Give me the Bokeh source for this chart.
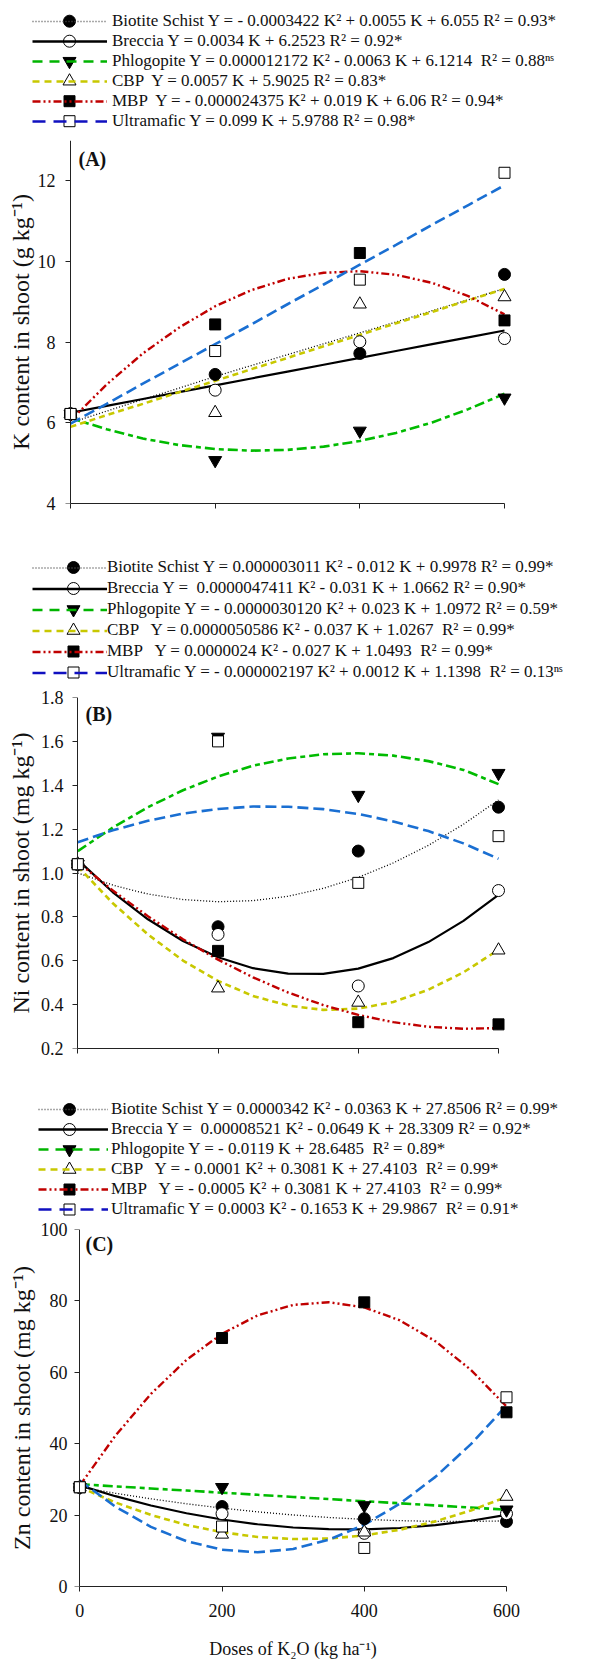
import numpy as np
from bokeh.plotting import figure
from bokeh.models import (Range1d, FixedTicker, Legend, LegendItem, Label,
                          NumeralTickFormatter, LinearAxis)
from bokeh.embed import file_html
from bokeh.resources import INLINE

# ---------------- data ----------------
DOSES = [0, 200, 400, 600]
CURVE_X = [0, 50, 100, 150, 200, 250, 300, 350, 400, 450, 500, 550, 600]
DOSE_TICKS = [0, 200, 400, 600]
SERIES = ["Biotite Schist", "Breccia", "Phlogopite", "CBP", "MBP", "Ultramafic"]

# (A) K content in shoot (g kg-1)
K_TICKS = [4, 6, 8, 10, 12]
K_OBS_BIOTITE = [6.22, 7.20, 7.72, 9.68]
K_OBS_BRECCIA = [6.22, 6.81, 8.01, 8.09]
K_OBS_PHLOGOPITE = [6.22, 5.07, 5.80, 6.62]
K_OBS_CBP = [6.22, 6.25, 8.94, 9.12]
K_OBS_MBP = [6.22, 8.44, 10.21, 8.54]
K_OBS_ULTRAMAFIC = [6.22, 7.78, 9.55, 12.20]
K_FIT_BIOTITE = [6.00, 6.29, 6.58, 6.86, 7.15, 7.42, 7.69, 7.96, 8.23, 8.50, 8.78, 9.05, 9.33]
K_FIT_BRECCIA = [6.25, 6.42, 6.59, 6.76, 6.93, 7.10, 7.27, 7.44, 7.61, 7.78, 7.95, 8.12, 8.29]
K_FIT_PHLOGOPITE = [6.12, 5.84, 5.61, 5.45, 5.35, 5.31, 5.33, 5.41, 5.55, 5.75, 6.01, 6.34, 6.72]
K_FIT_CBP = [5.90, 6.19, 6.47, 6.76, 7.04, 7.33, 7.61, 7.90, 8.18, 8.47, 8.75, 9.04, 9.32]
K_FIT_MBP = [6.06, 6.95, 7.72, 8.36, 8.89, 9.29, 9.57, 9.72, 9.76, 9.67, 9.47, 9.14, 8.69]
K_FIT_ULTRAMAFIC = [5.98, 6.47, 6.97, 7.46, 7.95, 8.44, 8.94, 9.43, 9.92, 10.41, 10.91, 11.40, 11.89]
K_LABELS = [
    "Biotite Schist Y = - 0.0003422 K\u00b2 + 0.0055 K + 6.055 R\u00b2 = 0.93*",
    "Breccia Y = 0.0034 K + 6.2523 R\u00b2 = 0.92*",
    "Phlogopite Y = 0.000012172 K\u00b2 - 0.0063 K + 6.1214  R\u00b2 = 0.88\u207f\u02e2",
    "CBP  Y = 0.0057 K + 5.9025 R\u00b2 = 0.83*",
    "MBP  Y = - 0.000024375 K\u00b2 + 0.019 K + 6.06 R\u00b2 = 0.94*",
    "Ultramafic Y = 0.099 K + 5.9788 R\u00b2 = 0.98*",
]

# (B) Ni content in shoot (mg kg-1)
NI_TICKS = [0.2, 0.4, 0.6, 0.8, 1.0, 1.2, 1.4, 1.6, 1.8]
NI_OBS_BIOTITE = [1.04, 0.755, 1.10, 1.30]
NI_OBS_BRECCIA = [1.04, 0.72, 0.485, 0.92]
NI_OBS_PHLOGOPITE = [1.04, 1.62, 1.355, 1.455]
NI_OBS_CBP = [1.04, 0.475, 0.41, 0.648]
NI_OBS_MBP = [1.04, 0.645, 0.32, 0.31]
NI_OBS_ULTRAMAFIC = [1.04, 1.60, 0.955, 1.168]
NI_FIT_BIOTITE = [1.000, 0.945, 0.904, 0.879, 0.869, 0.874, 0.894, 0.930, 0.980, 1.046, 1.126, 1.222, 1.333]
NI_FIT_BRECCIA = [1.060, 0.912, 0.789, 0.690, 0.616, 0.566, 0.541, 0.540, 0.564, 0.612, 0.685, 0.782, 0.900]
NI_FIT_PHLOGOPITE = [1.100, 1.207, 1.300, 1.377, 1.440, 1.489, 1.522, 1.541, 1.546, 1.535, 1.510, 1.470, 1.405]
NI_FIT_CBP = [1.030, 0.862, 0.720, 0.601, 0.508, 0.439, 0.396, 0.376, 0.382, 0.412, 0.468, 0.547, 0.650]
NI_FIT_MBP = [1.049, 0.920, 0.803, 0.698, 0.605, 0.524, 0.455, 0.398, 0.353, 0.320, 0.299, 0.290, 0.293]
NI_FIT_ULTRAMAFIC = [1.140, 1.195, 1.238, 1.271, 1.292, 1.303, 1.302, 1.291, 1.269, 1.235, 1.191, 1.135, 1.065]
NI_LABELS = [
    "Biotite Schist Y = 0.000003011 K\u00b2 - 0.012 K + 0.9978 R\u00b2 = 0.99*",
    "Breccia Y =  0.0000047411 K\u00b2 - 0.031 K + 1.0662 R\u00b2 = 0.90*",
    "Phlogopite Y = - 0.0000030120 K\u00b2 + 0.023 K + 1.0972 R\u00b2 = 0.59*",
    "CBP   Y = 0.0000050586 K\u00b2 - 0.037 K + 1.0267  R\u00b2 = 0.99*",
    "MBP   Y = 0.0000024 K\u00b2 - 0.027 K + 1.0493  R\u00b2 = 0.99*",
    "Ultramafic Y = - 0.000002197 K\u00b2 + 0.0012 K + 1.1398  R\u00b2 = 0.13\u207f\u02e2",
]

# (C) Zn content in shoot (mg kg-1)
ZN_TICKS = [0, 20, 40, 60, 80, 100]
ZN_OBS_BIOTITE = [27.8, 22.4, 19.0, 18.2]
ZN_OBS_BRECCIA = [27.8, 20.4, 14.9, 20.4]
ZN_OBS_PHLOGOPITE = [27.8, 27.8, 22.7, 21.5]
ZN_OBS_CBP = [27.8, 14.6, 15.2, 25.2]
ZN_OBS_MBP = [27.8, 69.6, 79.6, 48.8]
ZN_OBS_ULTRAMAFIC = [27.8, 16.8, 10.8, 53.0]
ZN_FIT_BIOTITE = [27.85, 26.12, 24.56, 23.17, 21.96, 20.91, 20.04, 19.33, 18.80, 18.44, 18.25, 18.23, 18.38]
ZN_FIT_BRECCIA = [28.33, 25.30, 22.69, 20.51, 18.76, 17.43, 16.53, 16.05, 16.00, 16.38, 17.18, 18.41, 20.07]
ZN_FIT_PHLOGOPITE = [28.65, 28.05, 27.46, 26.87, 26.27, 25.68, 25.08, 24.49, 23.89, 23.30, 22.70, 22.11, 21.51]
ZN_FIT_CBP = [27.80, 23.55, 20.04, 17.25, 15.20, 13.88, 13.29, 13.43, 14.30, 15.90, 18.24, 21.30, 25.10]
ZN_FIT_MBP = [28.30, 42.22, 53.94, 63.47, 70.80, 75.94, 78.88, 79.63, 78.18, 74.54, 68.70, 60.67, 50.44]
ZN_FIT_ULTRAMAFIC = [29.70, 22.38, 16.70, 12.68, 10.30, 9.58, 10.50, 13.08, 17.30, 23.18, 30.70, 39.88, 50.70]
ZN_LABELS = [
    "Biotite Schist Y = 0.0000342 K\u00b2 - 0.0363 K + 27.8506 R\u00b2 = 0.99*",
    "Breccia Y =  0.00008521 K\u00b2 - 0.0649 K + 28.3309 R\u00b2 = 0.92*",
    "Phlogopite Y = - 0.0119 K + 28.6485  R\u00b2 = 0.89*",
    "CBP   Y = - 0.0001 K\u00b2 + 0.3081 K + 27.4103  R\u00b2 = 0.99*",
    "MBP   Y = - 0.0005 K\u00b2 + 0.3081 K + 27.4103  R\u00b2 = 0.99*",
    "Ultramafic Y = 0.0003 K\u00b2 - 0.1653 K + 29.9867  R\u00b2 = 0.91*",
]

# ---------------- styles ----------------
FONT = "Liberation Serif"
PAGE_W = 597
INK = "#111111"
STYLES = [
    dict(color="#000000", dash="1 2", width=1.3, marker="circle", fill="#000000", size=12),
    dict(color="#000000", dash="solid", width=2.2, marker="circle", fill="#ffffff", size=12),
    dict(color="#00bb00", dash="10 4 5 4", width=2.6, marker="inverted_triangle", fill="#000000", size=13),
    dict(color="#c8c800", dash="6 4", width=2.6, marker="triangle", fill="#ffffff", size=13),
    dict(color="#c00000", dash="8 3 2 3 2 3", width=2.4, marker="square", fill="#000000", size=11),
    dict(color="#1a6fd2", dash="11 5", width=2.6, marker="square", fill="#ffffff", size=11),
]
# legend swatches in the original use slightly different line looks
LEGEND_LINES = [
    dict(color="#555555", dash="1 2", width=1.3),
    dict(color="#000000", dash="solid", width=2.4),
    dict(color="#00b400", dash="10 7", width=2.6),
    dict(color="#c8c800", dash="7 5", width=2.6),
    dict(color="#c00000", dash="8 3 2 3 2 3", width=2.4),
    dict(color="#1010c0", dash="13 8", width=2.6),
]
LEGEND_XOFF = -5000   # legend strips use a pixel-like x range far away from the dose axis


def make_legend_fig(obs, fits, labels, top, bottom, leg):
    """Legend strip above a panel; the series renderers it refers to fall outside its ranges."""
    h = bottom - top
    lf = figure(width=PAGE_W, height=h,
                x_range=Range1d(LEGEND_XOFF, LEGEND_XOFF + PAGE_W), y_range=Range1d(-h, 0),
                x_axis_type=None, y_axis_type=None,
                min_border_left=0, min_border_right=0, min_border_top=0, min_border_bottom=0,
                output_backend="svg", toolbar_location=None)
    lf.grid.visible = False
    lf.outline_line_color = None
    pitch = leg["pitch"]
    items = []
    for fit, ls, lab in zip(fits, LEGEND_LINES, labels):
        lr = lf.line(CURVE_X, fit, line_color=ls["color"], line_width=ls["width"], line_dash=ls["dash"])
        items.append(LegendItem(label=lab, renderers=[lr]))
    # legend markers (drawn under the legend's line swatches, as in the original)
    for i, st in enumerate(STYLES):
        lf.scatter([LEGEND_XOFF + leg["mx"]], [-(leg["row0"] + i * pitch - top)],
                   marker=st["marker"], size=st["size"],
                   fill_color=st["fill"], line_color="black", line_width=1)
    leg_bottom = leg["row0"] - pitch / 2.0 + 6 * pitch
    legend = Legend(items=items, location=(leg["left"], bottom - leg_bottom), orientation="vertical",
                    label_text_font=FONT, label_text_font_size="17px", label_text_color=INK,
                    glyph_width=leg["gw"], glyph_height=pitch, label_height=pitch, spacing=0,
                    padding=0, margin=0, border_line_color=None, background_fill_alpha=0,
                    label_standoff=leg["standoff"])
    lf.add_layout(legend)
    return lf


def make_panel(obs, fits, yr, yticks, fmt, geo, ax, tag, ytitle, xtitle):
    L, R, T, B, top, bottom = geo["L"], geo["R"], geo["T"], geo["B"], geo["top"], geo["bottom"]
    pad = 9
    sx = (R - L) / 600.0
    sy = (B - T) / (yr[1] - yr[0])
    fl = int(round(L - pad))
    fr = int(round(R + pad))
    p = figure(width=PAGE_W, height=bottom - top,
               min_border_left=fl, min_border_right=PAGE_W - fr,
               min_border_top=T - top, min_border_bottom=bottom - B,
               x_range=Range1d(-(L - fl) / sx, 600 + (fr - R) / sx),
               y_range=Range1d(yr[0], yr[1]),
               output_backend="svg", toolbar_location=None)
    p.grid.visible = False
    p.outline_line_color = None
    p.background_fill_color = "white"

    # x axis
    xa = p.xaxis[0]
    xa.axis_line_color = "#222222"
    xa.major_tick_line_color = "#222222"
    xa.minor_tick_line_color = None
    xa.major_tick_in = 0
    xa.major_tick_out = 5
    xa.bounds = (0, 600)
    xa.ticker = FixedTicker(ticks=DOSE_TICKS)
    xa.major_label_text_font = FONT
    xa.major_label_text_font_size = "18px"
    xa.major_label_text_color = INK
    if xtitle is None:
        xa.major_label_overrides = {t: "" for t in DOSE_TICKS}
        xa.major_label_standoff = 0
        xa.major_label_text_font_size = "8px"
    else:
        xa.major_label_standoff = 12
        xa.axis_label = xtitle
        xa.axis_label_text_font = FONT
        xa.axis_label_text_font_size = "18px"
        xa.axis_label_text_font_style = "normal"
        xa.axis_label_text_color = INK
        xa.axis_label_standoff = 19

    # y axis: tick labels + title beside the frame
    ya = p.yaxis[0]
    ya.ticker = FixedTicker(ticks=yticks)
    ya.axis_line_color = None
    ya.major_tick_line_color = None
    ya.minor_tick_line_color = None
    ya.major_tick_in = 0
    ya.major_tick_out = 0
    ya.major_label_standoff = ax[0]
    ya.major_label_text_font = FONT
    ya.major_label_text_font_size = "18px"
    ya.major_label_text_color = INK
    if fmt:
        ya.formatter = NumeralTickFormatter(format=fmt)
    ya.axis_label = ytitle
    ya.axis_label_text_font = FONT
    ya.axis_label_text_font_size = "24px"
    ya.axis_label_text_font_style = "normal"
    ya.axis_label_text_color = INK
    ya.axis_label_standoff = ax[1]

    # y axis line and ticks at dose 0
    ya2 = LinearAxis(fixed_location=0, bounds=(yr[0], yr[1]), ticker=FixedTicker(ticks=yticks),
                     axis_line_color="#222222", major_tick_line_color="#222222",
                     minor_tick_line_color=None, major_tick_in=5, major_tick_out=0,
                     major_label_overrides={t: "" for t in yticks},
                     major_label_standoff=0, major_label_text_font_size="8px")
    p.add_layout(ya2, "right")

    # fitted curves then observed points
    for fit, st in zip(fits, STYLES):
        p.line(CURVE_X, fit, line_color=st["color"], line_width=st["width"], line_dash=st["dash"])
    for obs_y, st in zip(obs, STYLES):
        p.scatter(DOSES, obs_y, marker=st["marker"], size=st["size"],
                  fill_color=st["fill"], line_color="black", line_width=1)

    # panel tag
    p.add_layout(Label(x=(tag[1] - L) / sx, y=yr[1] - (tag[2] - T) / sy, text=tag[0],
                       text_font=FONT, text_font_size="20px", text_font_style="bold",
                       text_baseline="top", text_align="left", text_color=INK))
    return p


K_OBS = [K_OBS_BIOTITE, K_OBS_BRECCIA, K_OBS_PHLOGOPITE, K_OBS_CBP, K_OBS_MBP, K_OBS_ULTRAMAFIC]
K_FIT = [K_FIT_BIOTITE, K_FIT_BRECCIA, K_FIT_PHLOGOPITE, K_FIT_CBP, K_FIT_MBP, K_FIT_ULTRAMAFIC]
NI_OBS = [NI_OBS_BIOTITE, NI_OBS_BRECCIA, NI_OBS_PHLOGOPITE, NI_OBS_CBP, NI_OBS_MBP, NI_OBS_ULTRAMAFIC]
NI_FIT = [NI_FIT_BIOTITE, NI_FIT_BRECCIA, NI_FIT_PHLOGOPITE, NI_FIT_CBP, NI_FIT_MBP, NI_FIT_ULTRAMAFIC]
ZN_OBS = [ZN_OBS_BIOTITE, ZN_OBS_BRECCIA, ZN_OBS_PHLOGOPITE, ZN_OBS_CBP, ZN_OBS_MBP, ZN_OBS_ULTRAMAFIC]
ZN_FIT = [ZN_FIT_BIOTITE, ZN_FIT_BRECCIA, ZN_FIT_PHLOGOPITE, ZN_FIT_CBP, ZN_FIT_MBP, ZN_FIT_ULTRAMAFIC]

legA = make_legend_fig(K_OBS, K_FIT, K_LABELS, 0, 136,
                       dict(row0=20.7, pitch=20, left=32, gw=75, standoff=5, mx=69))
pA = make_panel(K_OBS, K_FIT, (4, 13), K_TICKS, None,
                dict(L=70, R=504, T=140, B=503, top=136, bottom=535), (6, 1),
                ("(A)", 78, 147), "K content in shoot (g kg\u207b\u00b9)", None)

legB = make_legend_fig(NI_OBS, NI_FIT, NI_LABELS, 535, 684,
                       dict(row0=567, pitch=21, left=32, gw=75, standoff=0, mx=73))
pB = make_panel(NI_OBS, NI_FIT, (0.2, 1.8), NI_TICKS, "0.0",
                dict(L=77.3, R=498, T=697, B=1048, top=684, bottom=1085), (5, 4),
                ("(B)", 85, 702), "Ni content in shoot (mg kg\u207b\u00b9)", None)

legC = make_legend_fig(ZN_OBS, ZN_FIT, ZN_LABELS, 1085, 1219,
                       dict(row0=1109, pitch=20, left=38, gw=70, standoff=3, mx=69))
pC = make_panel(ZN_OBS, ZN_FIT, (0, 100), ZN_TICKS, None,
                dict(L=79.3, R=506, T=1229, B=1586, top=1219, bottom=1666), (3, 3),
                ("(C)", 85, 1232), "Zn content in shoot (mg kg\u207b\u00b9)",
                "Doses of K\u2082O (kg ha\u207b\u00b9)")

open("out.html", "w").write(file_html([legA, pA, legB, pB, legC, pC], INLINE))
